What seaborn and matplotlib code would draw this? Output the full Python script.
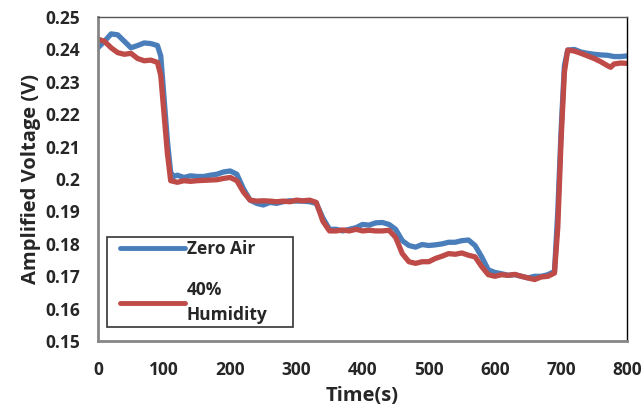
import pandas as pd
import matplotlib.pyplot as plt
import seaborn as sns
from matplotlib.legend_handler import HandlerLine2D
from matplotlib.lines import Line2D

# readings taken off the original chart (time in s, amplified voltage in V)
time_zero = [0, 10, 20, 30, 40, 50, 60, 70, 80, 90, 95, 100, 105, 110, 115, 120, 130, 140, 150, 160,
             170, 180, 190, 200, 210, 220, 230, 240, 250, 260, 270, 280, 290, 300, 310, 320, 330, 340,
             350, 360, 370, 380, 390, 400, 410, 420, 430, 440, 450, 460, 470, 480, 490, 500, 510, 520,
             530, 540, 550, 560, 570, 580, 590, 600, 610, 620, 630, 640, 650, 660, 670, 680, 690, 695,
             700, 705, 710, 720, 730, 740, 750, 760, 770, 780, 790, 800]
volt_zero = [0.2405, 0.2425, 0.2448, 0.2445, 0.2425, 0.2405, 0.2412, 0.2420, 0.2418, 0.2412, 0.2380,
             0.2250, 0.2120, 0.2020, 0.2008, 0.2012, 0.2005, 0.2010, 0.2008, 0.2008, 0.2012, 0.2015,
             0.2022, 0.2025, 0.2015, 0.1970, 0.1935, 0.1925, 0.1920, 0.1928, 0.1925, 0.1930, 0.1933,
             0.1932, 0.1932, 0.1930, 0.1925, 0.1880, 0.1845, 0.1845, 0.1840, 0.1845, 0.1850, 0.1860,
             0.1858, 0.1865, 0.1866, 0.1860, 0.1845, 0.1810, 0.1795, 0.1790, 0.1798, 0.1795, 0.1797,
             0.1800, 0.1805, 0.1805, 0.1810, 0.1812, 0.1795, 0.1760, 0.1720, 0.1712, 0.1708, 0.1703,
             0.1705, 0.1700, 0.1695, 0.1700, 0.1700, 0.1705, 0.1715, 0.1900, 0.2150, 0.2350, 0.2398,
             0.2400, 0.2392, 0.2388, 0.2385, 0.2383, 0.2382, 0.2378, 0.2378, 0.2380]

time_hum = [0, 10, 20, 30, 40, 50, 60, 70, 80, 90, 95, 100, 105, 110, 120, 130, 140, 150, 160, 170,
            180, 190, 200, 210, 220, 230, 240, 250, 260, 270, 280, 290, 300, 310, 320, 330, 340, 350,
            360, 370, 380, 390, 400, 410, 420, 430, 440, 450, 460, 470, 480, 490, 500, 510, 520, 530,
            540, 550, 560, 570, 580, 590, 600, 610, 620, 630, 640, 650, 660, 670, 680, 690, 695, 700,
            705, 710, 720, 730, 740, 750, 760, 770, 775, 780, 790, 800]
volt_hum = [0.2432, 0.2425, 0.2405, 0.2390, 0.2385, 0.2388, 0.2372, 0.2365, 0.2367, 0.2360, 0.2320,
            0.2200, 0.2080, 0.1995, 0.1990, 0.1995, 0.1993, 0.1995, 0.1996, 0.1997, 0.1998, 0.2002,
            0.2005, 0.1995, 0.1960, 0.1935, 0.1932, 0.1933, 0.1932, 0.1930, 0.1932, 0.1930, 0.1935,
            0.1933, 0.1935, 0.1928, 0.1870, 0.1840, 0.1840, 0.1843, 0.1840, 0.1845, 0.1840, 0.1842,
            0.1840, 0.1840, 0.1842, 0.1820, 0.1770, 0.1745, 0.1740, 0.1745, 0.1745, 0.1755, 0.1762,
            0.1770, 0.1768, 0.1772, 0.1765, 0.1760, 0.1730, 0.1705, 0.1700, 0.1705, 0.1703, 0.1706,
            0.1700, 0.1695, 0.1690, 0.1698, 0.1700, 0.1710, 0.1850, 0.2120, 0.2330, 0.2398, 0.2395,
            0.2388, 0.2380, 0.2372, 0.2362, 0.2350, 0.2345, 0.2355, 0.2358, 0.2357]

series_names = ['Zero Air', '40%\nHumidity']
series_colors = ['#4a7ebb', '#be4b48']
x_ticks = [0, 100, 200, 300, 400, 500, 600, 700, 800]
y_ticks = [0.15, 0.16, 0.17, 0.18, 0.19, 0.2, 0.21, 0.22, 0.23, 0.24, 0.25]
y_tick_labels = ['0.15', '0.16', '0.17', '0.18', '0.19', '0.2', '0.21', '0.22', '0.23', '0.24', '0.25']

df = pd.concat([
    pd.DataFrame({'Time': time_zero, 'Voltage': volt_zero, 'Series': series_names[0]}),
    pd.DataFrame({'Time': time_hum, 'Voltage': volt_hum, 'Series': series_names[1]}),
])

sns.set_style('white')
plt.rcParams['font.family'] = ['Open Sans', 'DejaVu Sans']
plt.rcParams['font.weight'] = 'bold'

fig = plt.figure(figsize=(6.44, 4.15), dpi=100)
ax = fig.add_axes([0.152, 0.178, 0.822, 0.781])

sns.lineplot(data=df, x='Time', y='Voltage', hue='Series', hue_order=series_names,
             palette=series_colors, linewidth=3.8, ax=ax, sort=False, estimator=None)

ax.set_xlim(0, 800)
ax.set_ylim(0.15, 0.25)
ax.set_xticks(x_ticks)
ax.set_xticklabels([str(t) for t in x_ticks], fontsize=12.5, fontweight='bold')
ax.set_yticks(y_ticks)
ax.set_yticklabels(y_tick_labels, fontsize=12.5, fontweight='bold')
ax.tick_params(length=0)
ax.tick_params(axis='x', pad=14)
ax.tick_params(axis='y', pad=13)
ax.set_xlabel('Time(s)', fontsize=14.5, fontweight='bold', labelpad=5)
ax.set_ylabel('Amplified Voltage (V)', fontsize=14.5, fontweight='bold', labelpad=3)

for side in ['left', 'bottom']:
    ax.spines[side].set_color('#868686')
    ax.spines[side].set_linewidth(2)
for side in ['top', 'right']:
    ax.spines[side].set_color('black')
    ax.spines[side].set_linewidth(1)
ax.spines['top'].set_color('#555555')

leg = ax.legend(loc='lower left', bbox_to_anchor=(0.017, 0.043, 0.352, 0.29), mode='expand',
                frameon=True, fancybox=False, edgecolor='black', fontsize=12.5,
                handlelength=4.3, labelspacing=1.3, borderpad=0.2, handletextpad=0.1,
                borderaxespad=0, handler_map={Line2D: HandlerLine2D(xpad=0.55)})
leg.get_frame().set_linewidth(1.2)
for t in leg.get_texts():
    t.set_fontweight('bold')
    t.set_linespacing(1.5)
for line in leg.get_lines():
    line.set_linewidth(3.5)

fig.savefig('out.png', dpi=100)
